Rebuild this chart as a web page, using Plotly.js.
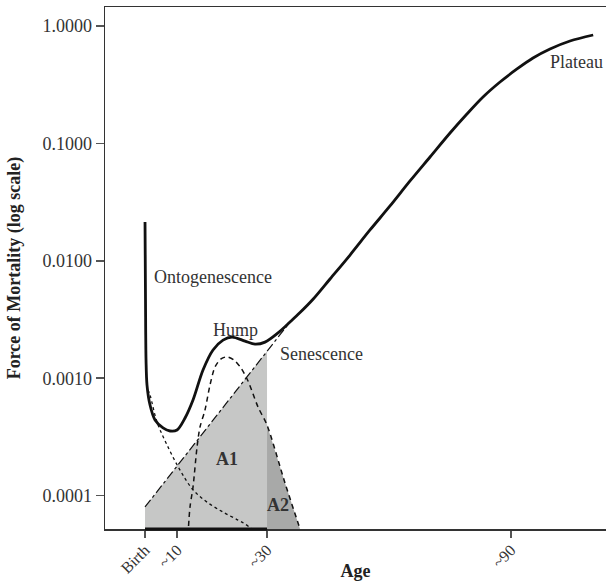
<!DOCTYPE html>
<html>
<head>
<meta charset="utf-8">
<script src="https://cdn.plot.ly/plotly-3.0.1.min.js"></script>
<style>html,body{margin:0;padding:0;background:#fff;}#chart{width:606px;height:581px;}</style>
</head>
<body>
<div id="chart"></div>
<script>
// ---- data ----
const xTickVals = [0, 7.9, 30, 90];
const xTickText = ['Birth', '~10', '~30', '~90'];
const yTickVals = [0.0001, 0.001, 0.01, 0.1, 1];
const yTickText = ['0.0001', '0.0010', '0.0100', '0.1000', '1.0000'];

// total force of mortality (solid)
const ageTotal = [0, 0.12, 0.25, 0.49, 1.23, 2.46, 4.43, 6.15, 7.87, 9.84, 11.8, 14.26, 16.72, 19.18, 21.39, 24.59, 27.05, 29.5, 32.7, 35.65, 38.11, 41.31, 45.49, 50.41, 55.32, 60.24, 65.16, 70.08, 75.0, 78.93, 83.11, 87.29, 91.47, 95.40, 99.58, 104.5, 110.2];
const muTotal  = [0.0214, 0.00464, 0.00143, 0.000875, 0.000591, 0.000441, 0.000377, 0.000355, 0.000362, 0.000458, 0.000652, 0.001175, 0.00174, 0.00211, 0.00224, 0.00207, 0.00195, 0.00203, 0.00243, 0.00301, 0.00362, 0.00470, 0.0070, 0.0112, 0.0183, 0.0293, 0.0479, 0.0766, 0.1227, 0.1746, 0.2485, 0.3334, 0.4305, 0.5335, 0.637, 0.745, 0.838];

// hump component (dashed)
const ageHump = [10.57, 11.06, 11.8, 12.79, 13.52, 14.75, 15.98, 17.21, 18.69, 20.16, 21.88, 23.6, 25.33, 27.78, 30.0, 34.42, 38.11, 38.6];
const muHump  = [4.62e-5, 8.0e-5, 1.18e-4, 2.59e-4, 3.84e-4, 5.36e-4, 8.75e-4, 1.245e-3, 1.46e-3, 1.52e-3, 1.43e-3, 1.22e-3, 9.47e-4, 5.69e-4, 3.99e-4, 1.28e-4, 5.2e-5, 4.62e-5];

// ontogenescence component (dotted)
const ageOnto = [0.74, 1.23, 2.95, 5.41, 8.61, 11.8, 15.24, 19.18, 22.87, 24.59, 26.3, 27.3];
const muOnto  = [7.94e-4, 7.19e-4, 4.24e-4, 2.70e-4, 1.65e-4, 1.12e-4, 8.8e-5, 7.24e-5, 6.19e-5, 5.73e-5, 5.2e-5, 4.9e-5];

// senescence component (dash-dot)
const ageSen = [0, 35.65];
const muSen  = [8.0e-5, 3.01e-3];

// shaded areas
const floorMu = 4e-5;
const ageA1 = [0, 0, 30, 30];
const muA1  = [floorMu, 8.0e-5, 1.70e-3, floorMu];
const ageA2 = [30, 30, 34.42, 38.11, 38.6];
const muA2  = [floorMu, 3.99e-4, 1.28e-4, 5.2e-5, floorMu];

// labels
const labelText = ['Ontogenescence', 'Hump', 'Senescence', 'Plateau', '<b>A1</b>', '<b>A2</b>'];
const labelAge  = [1.72, 22.13, 32.7, 99.1, 20.16, 32.7];
const labelLog  = [-2.138, -2.589, -2.794, -0.307, -3.688, -4.080];
const labelAnchor = ['left', 'center', 'left', 'left', 'center', 'center'];

const FONT = 'Liberation Serif, Times New Roman, serif';

const traces = [
  {x: ageA1, y: muA1, type: 'scatter', mode: 'lines', fill: 'toself', fillcolor: '#c6c7c6', line: {width: 0, color: '#c6c7c6'}, hoverinfo: 'skip'},
  {x: ageA2, y: muA2, type: 'scatter', mode: 'lines', fill: 'toself', fillcolor: '#a8a9a8', line: {width: 0, color: '#a8a9a8'}, hoverinfo: 'skip'},
  {x: ageOnto, y: muOnto, type: 'scatter', mode: 'lines', line: {color: '#111', width: 1.3, dash: 'dot', shape: 'spline'}},
  {x: ageSen, y: muSen, type: 'scatter', mode: 'lines', line: {color: '#111', width: 1.2, dash: 'dashdot'}},
  {x: ageHump, y: muHump, type: 'scatter', mode: 'lines', line: {color: '#111', width: 1.5, dash: '5px,4px', shape: 'spline', smoothing: 0.8}},
  {x: ageTotal, y: muTotal, type: 'scatter', mode: 'lines', line: {color: '#111', width: 2.8, shape: 'spline', smoothing: 0.9}}
];

const annotations = labelText.map((t, i) => ({
  text: t, x: labelAge[i], y: labelLog[i], xref: 'x', yref: 'y',
  xanchor: labelAnchor[i], yanchor: 'middle', showarrow: false,
  font: {family: FONT, size: 18, color: '#333'}
}));

const layout = {
  width: 606, height: 581,
  margin: {l: 105, r: 0, t: 7, b: 52, pad: 0},
  paper_bgcolor: '#fff', plot_bgcolor: '#fff',
  showlegend: false,
  font: {family: FONT, size: 18, color: '#333'},
  xaxis: {
    range: [-9.84, 113.35], tickmode: 'array', tickvals: xTickVals, ticktext: xTickText,
    tickangle: -45, ticks: 'outside', ticklen: 7, tickwidth: 1.5, tickcolor: '#555',
    tickfont: {family: FONT, size: 16, color: '#333'}, ticklabelstandoff: -3,
    showline: true, mirror: true, linecolor: '#333', linewidth: 1.5,
    showgrid: false, zeroline: false,
    title: {text: '<b>Age</b>', font: {family: FONT, size: 18, color: '#222'}, standoff: 2}
  },
  yaxis: {
    type: 'log', range: [-4.2845, 0.1618], tickmode: 'array', tickvals: yTickVals, ticktext: yTickText,
    ticks: 'outside', ticklen: 8, tickwidth: 1.5, tickcolor: '#555',
    showline: true, mirror: false, linecolor: '#333', linewidth: 1.5,
    showgrid: false, zeroline: false,
    title: {text: '<b>Force of Mortality (log scale)</b>', font: {family: FONT, size: 18, color: '#222'}, standoff: 17}
  },
  shapes: [{type: 'line', xref: 'x', yref: 'paper', x0: ageA1[0], x1: ageA1[2], y0: 0, y1: 0, line: {color: '#111', width: 3}}],
  annotations: annotations
};

Plotly.newPlot('chart', traces, layout, {staticPlot: true, displayModeBar: false});
</script>
</body>
</html>
